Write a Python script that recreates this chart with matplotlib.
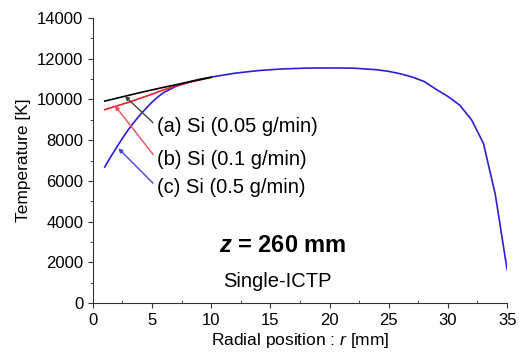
import numpy as np
import matplotlib
matplotlib.use("Agg")
import matplotlib.pyplot as plt
from matplotlib.ticker import MultipleLocator

plt.rcParams['font.family'] = ['Liberation Sans', 'DejaVu Sans']
plt.rcParams['mathtext.fontset'] = 'custom'
plt.rcParams['mathtext.rm'] = 'Liberation Sans'
plt.rcParams['mathtext.it'] = 'Liberation Sans:italic'
plt.rcParams['mathtext.bf'] = 'Liberation Sans:bold'
plt.rcParams['mathtext.bfit'] = 'Liberation Sans:bold:italic'

# datos
r_c = [1, 1.5, 2, 2.5, 3, 3.5, 4, 4.5, 5, 5.5, 6, 7, 8, 9, 10, 12, 14, 16, 18, 20, 22, 24, 25, 26, 27, 28,
       29, 30, 31, 32, 33, 34, 35]
T_c = [6680, 7180, 7640, 8100, 8520, 8900, 9250, 9570, 9870, 10130, 10350, 10640, 10840, 10990, 11100,
       11290, 11420, 11500, 11540, 11550, 11540, 11460, 11380, 11260, 11100, 10880, 10500, 10150, 9720,
       9000, 7850, 5350, 1650]

r_ab = [1, 2, 3, 4, 5, 6, 7, 8, 9, 10]
T_a = [9920, 10060, 10200, 10340, 10470, 10600, 10720, 10850, 10970, 11090]
T_b = [9500, 9680, 9860, 10060, 10260, 10480, 10660, 10820, 10960, 11085]

labels = ['(a) Si (0.05 g/min)', '(b) Si (0.1 g/min)', '(c) Si (0.5 g/min)']

fig = plt.figure(figsize=(5.19, 3.54), dpi=100)
ax = fig.add_axes([0.179, 0.144, 0.798, 0.805])

ax.plot(r_c, T_c, color='#2a1fd6', lw=1.2)
ax.plot(r_ab, T_b, color='#e8202a', lw=1.2)
ax.plot(r_ab, T_a, color='black', lw=1.2)

ax.set_xlim(0, 35)
ax.set_ylim(0, 14000)
ax.xaxis.set_major_locator(MultipleLocator(5))
ax.xaxis.set_minor_locator(MultipleLocator(2.5))
ax.yaxis.set_major_locator(MultipleLocator(2000))
ax.yaxis.set_minor_locator(MultipleLocator(1000))
ax.tick_params(which='both', direction='out', labelsize=12, color='#333333')
ax.tick_params(axis='x', which='minor', direction='in')
ax.spines['top'].set_visible(False)
ax.spines['right'].set_visible(False)
ax.spines['left'].set_color('#333333')
ax.spines['bottom'].set_color('#333333')

ax.set_xlabel('Radial position : $\\mathit{r}$ [mm]', fontsize=12.5, labelpad=2)
ax.set_ylabel('Temperature [K]', fontsize=12.5, labelpad=4)

# anotaciones con flechas
flecha = dict(arrowstyle='-|>', lw=1, mutation_scale=6, shrinkA=1, shrinkB=0, relpos=(0, 0.5))
ax.annotate(labels[0], xy=(2.7, 10170), xytext=(5.4, 8680), fontsize=14.5, va='center',
            arrowprops=dict(flecha, color='#444444'))
ax.annotate(labels[1], xy=(1.85, 9700), xytext=(5.4, 7070), fontsize=14.5, va='center',
            arrowprops=dict(flecha, color='#e8505a'))
ax.annotate(labels[2], xy=(2.15, 7600), xytext=(5.4, 5700), fontsize=14.5, va='center',
            arrowprops=dict(flecha, color='#4a40e0'))

ax.text(16.0, 2830, '$\\mathbfit{z}$ = 260 mm', fontsize=17, fontweight='bold', ha='center', va='center')
ax.text(15.6, 1070, 'Single-ICTP', fontsize=14.5, ha='center', va='center')

fig.savefig('out.png', dpi=100)
